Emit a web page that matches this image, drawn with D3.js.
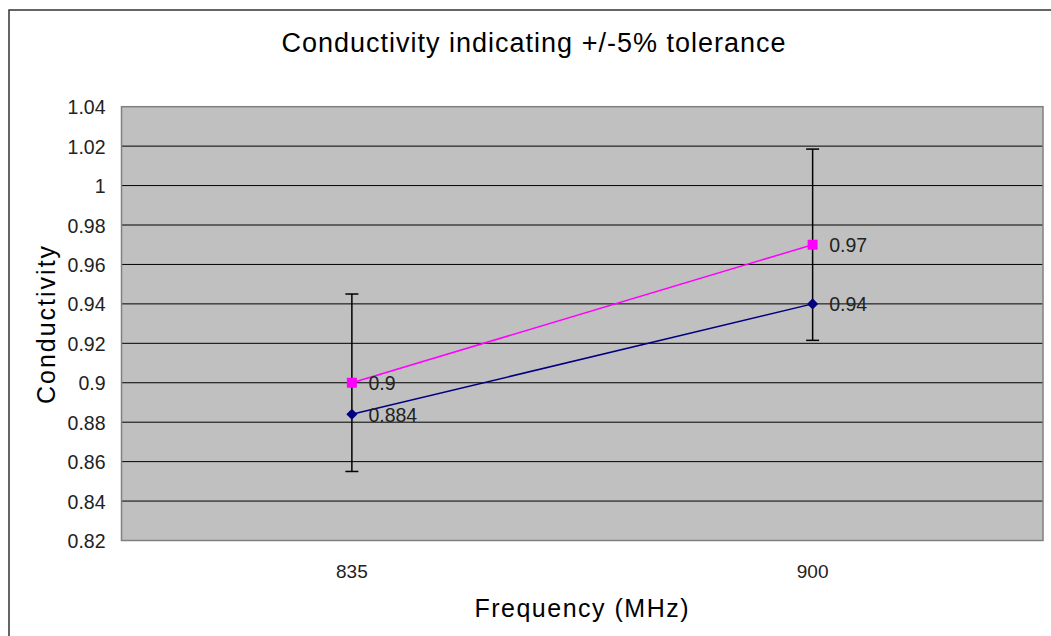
<!DOCTYPE html>
<html><head><meta charset="utf-8">
<script src="https://cdn.jsdelivr.net/npm/d3@7"></script>
<style>body{margin:0;background:#fff}svg{display:block}text{font-family:"Liberation Sans",Arial,sans-serif}</style>
</head><body>
<script>
const categories = ["835", "900"];
const measured = [0.884, 0.94];
const target = [0.9, 0.97];
const tolerance = 0.05;
const yTicks = [0.82,0.84,0.86,0.88,0.9,0.92,0.94,0.96,0.98,1,1.02,1.04];

const W = 1051, H = 636;
const m = {left:121.5, right:1043, top:106.7, bottom:540.5};
const svg = d3.select("body").append("svg").attr("width",W).attr("height",H);

// outer border
svg.append("rect").attr("x",9).attr("y",10).attr("width",1050).attr("height",700)
  .attr("fill","#fff").attr("stroke","#333").attr("stroke-width",1.5);

const x = d3.scaleBand().domain(categories).range([m.left,m.right]);
const y = d3.scaleLinear().domain([0.82,1.04]).range([m.bottom,m.top]);
const cx = d => x(d)+x.bandwidth()/2;

svg.append("rect").attr("x",m.left).attr("y",m.top).attr("width",m.right-m.left).attr("height",m.bottom-m.top)
  .attr("fill","#c0c0c0");

// gridlines
svg.append("g").selectAll("line").data(yTicks.slice(1,-1)).join("line")
  .attr("x1",m.left).attr("x2",m.right).attr("y1",d=>y(d)).attr("y2",d=>y(d))
  .attr("stroke","#000").attr("stroke-width",1);

svg.append("rect").attr("x",m.left).attr("y",m.top).attr("width",m.right-m.left).attr("height",m.bottom-m.top)
  .attr("fill","none").attr("stroke","#808080").attr("stroke-width",1.5);

// y axis
const yAxis = d3.axisLeft(y).tickValues(yTicks).tickSize(0).tickPadding(16).tickFormat(d=>String(+d.toFixed(2)));
const gy = svg.append("g").attr("transform",`translate(${m.left},0)`).call(yAxis);
gy.select(".domain").remove();
gy.selectAll("text").attr("font-size",19.5).attr("fill","#222").attr("dy","0.36em");

// x axis
const xAxis = d3.axisBottom(x).tickSize(0).tickPadding(24);
const gx = svg.append("g").attr("transform",`translate(0,${m.bottom})`).call(xAxis);
gx.select(".domain").remove();
gx.selectAll("text").attr("font-size",19).attr("fill","#222");

// error bars on target
const eb = svg.append("g");
categories.forEach((c,i)=>{
  const lo = target[i]*(1-tolerance), hi = target[i]*(1+tolerance);
  eb.append("line").attr("x1",cx(c)).attr("x2",cx(c)).attr("y1",y(lo)).attr("y2",y(hi)).attr("stroke","#000").attr("stroke-width",1.5);
  [lo,hi].forEach(v=>eb.append("line").attr("x1",cx(c)-6.5).attr("x2",cx(c)+6.5).attr("y1",y(v)).attr("y2",y(v)).attr("stroke","#000").attr("stroke-width",1.5));
});

const line = d3.line().x((d,i)=>cx(categories[i])).y(d=>y(d));
svg.append("path").datum(target).attr("d",line).attr("fill","none").attr("stroke","#ff00ff").attr("stroke-width",1.5);
svg.append("path").datum(measured).attr("d",line).attr("fill","none").attr("stroke","#000080").attr("stroke-width",1.5);

svg.append("g").selectAll("rect").data(target).join("rect")
  .attr("x",(d,i)=>cx(categories[i])-5).attr("y",d=>y(d)-5).attr("width",10).attr("height",10).attr("fill","#ff00ff");
svg.append("g").selectAll("path").data(measured).join("path")
  .attr("d",d3.symbol(d3.symbolSquare,62))
  .attr("transform",(d,i)=>`translate(${cx(categories[i])},${y(d)}) rotate(45)`).attr("fill","#000080");

const lab = svg.append("g").attr("font-size",19.5).attr("fill","#222");
target.forEach((v,i)=>lab.append("text").attr("x",cx(categories[i])+16.5).attr("y",y(v)).attr("dy","0.38em").text(v));
measured.forEach((v,i)=>lab.append("text").attr("x",cx(categories[i])+16.5).attr("y",y(v)).attr("dy","0.38em").text(v));

svg.append("text").attr("x",534).attr("y",52).attr("text-anchor","middle").attr("font-size",27)
  .attr("letter-spacing",1).attr("fill","#000").text("Conductivity indicating +/-5% tolerance");
svg.append("text").attr("x",(m.left+m.right)/2).attr("y",617).attr("text-anchor","middle").attr("font-size",25)
  .attr("letter-spacing",1.5).attr("fill","#000").text("Frequency (MHz)");
svg.append("text").attr("transform","translate(55,324) rotate(-90)").attr("text-anchor","middle").attr("font-size",25)
  .attr("letter-spacing",2).attr("fill","#000").text("Conductivity");
</script>
</body></html>
